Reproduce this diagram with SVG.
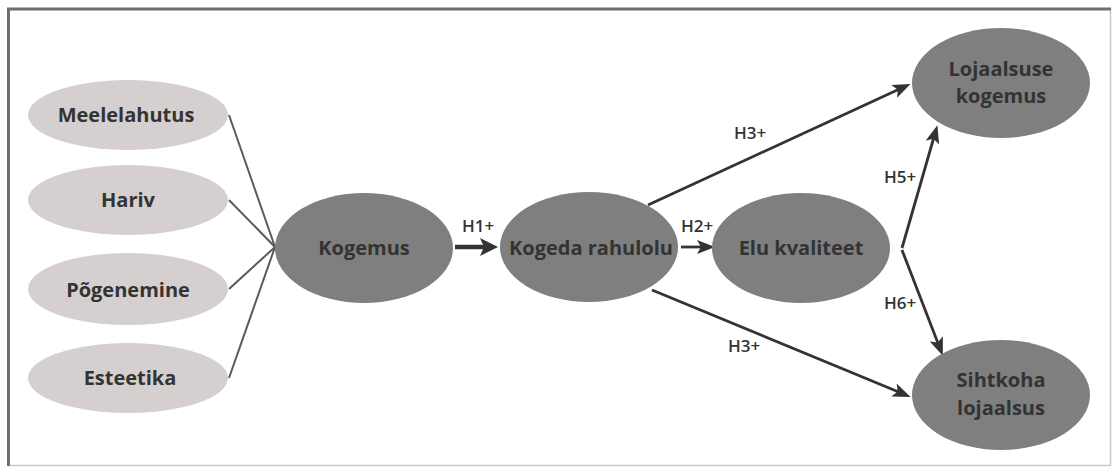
<svg xmlns="http://www.w3.org/2000/svg" width="1114" height="467" viewBox="0 0 1114 467">
<style>
.frame-t{stroke:#6e6e6e;stroke-width:3;fill:none}
.frame-b{stroke:#c8c8c8;stroke-width:1.5;fill:none}
.light{fill:#d5cfcf}
.dark{fill:#7f7f7f}
.nt{font-family:"Open Sans","DejaVu Sans",sans-serif;font-weight:700;font-size:20px;fill:#333;text-anchor:middle}
.lbl{font-family:"Open Sans","DejaVu Sans",sans-serif;font-weight:600;font-size:17px;fill:#333;text-anchor:middle}
.thin{stroke:#5a5a5a;stroke-width:2;fill:none}
.arr{stroke:#333;stroke-width:2.8;fill:none;marker-end:url(#ah)}
.arr-b{stroke:#333;stroke-width:4.5;fill:none;marker-end:url(#ahb)}
</style>
<defs>
<marker id="ah" viewBox="0 0 18 14" markerWidth="18" markerHeight="14" refX="13" refY="7" orient="auto" markerUnits="userSpaceOnUse">
<path d="M0,0 L18,7 L0,14 L4,7 Z" fill="#333"/>
</marker>
<marker id="ahb" viewBox="0 0 18 18" markerWidth="18" markerHeight="18" refX="12" refY="9" orient="auto" markerUnits="userSpaceOnUse">
<path d="M0,0 L18,9 L0,18 L4,9 Z" fill="#333"/>
</marker>
</defs>
<rect x="0" y="0" width="1114" height="467" fill="#ffffff"/>
<g id="frame">
<path class="frame-b" d="M8,9 H1110.5 V465.5 H8"/>
<path class="frame-t" d="M8.5,466 V9 H1111"/>
</g>
<g id="connectors">
<line class="thin" x1="229" y1="115" x2="275" y2="247"/>
<line class="thin" x1="229" y1="200" x2="275" y2="247"/>
<line class="thin" x1="229" y1="289" x2="275" y2="247"/>
<line class="thin" x1="229" y1="378" x2="275" y2="247"/>
<line class="arr-b" x1="455" y1="247" x2="492" y2="247"/>
<line class="arr" x1="681" y1="247" x2="710" y2="247"/>
<line class="arr" x1="648" y1="205" x2="906" y2="86"/>
<line class="arr" x1="652" y1="290" x2="906" y2="395"/>
<line class="arr" x1="902" y1="248" x2="936" y2="130"/>
<line class="arr" x1="902" y1="250" x2="941" y2="351"/>
</g>
<g id="labels">
<text class="lbl" x="478" y="232">H1+</text>
<text class="lbl" x="697" y="232">H2+</text>
<text class="lbl" x="750" y="139">H3+</text>
<text class="lbl" x="744" y="352">H3+</text>
<text class="lbl" x="900" y="183">H5+</text>
<text class="lbl" x="900" y="309">H6+</text>
</g>
<g id="node-meelelahutus"><ellipse class="light" cx="128" cy="115" rx="100" ry="35"/><text class="nt" x="126" y="122">Meelelahutus</text></g>
<g id="node-hariv"><ellipse class="light" cx="128" cy="200" rx="100" ry="35"/><text class="nt" x="128" y="207">Hariv</text></g>
<g id="node-pogenemine"><ellipse class="light" cx="128" cy="289" rx="100" ry="36"/><text class="nt" x="128" y="297">Põgenemine</text></g>
<g id="node-esteetika"><ellipse class="light" cx="128" cy="378" rx="100" ry="35"/><text class="nt" x="130" y="385">Esteetika</text></g>
<g id="node-kogemus"><ellipse class="dark" cx="364" cy="248" rx="89" ry="55"/><text class="nt" x="364" y="255">Kogemus</text></g>
<g id="node-kogeda"><ellipse class="dark" cx="589" cy="247" rx="89" ry="55"/><text class="nt" x="591" y="255">Kogeda rahulolu</text></g>
<g id="node-elu"><ellipse class="dark" cx="801" cy="248" rx="89" ry="55"/><text class="nt" x="801" y="255">Elu kvaliteet</text></g>
<g id="node-lojaalsuse"><ellipse class="dark" cx="1001" cy="83" rx="89" ry="55"/><text class="nt" x="1001" y="76">Lojaalsuse</text><text class="nt" x="1001" y="103">kogemus</text></g>
<g id="node-sihtkoha"><ellipse class="dark" cx="1001" cy="395" rx="89" ry="55"/><text class="nt" x="1001" y="387">Sihtkoha</text><text class="nt" x="1001" y="415">lojaalsus</text></g>
</svg>
